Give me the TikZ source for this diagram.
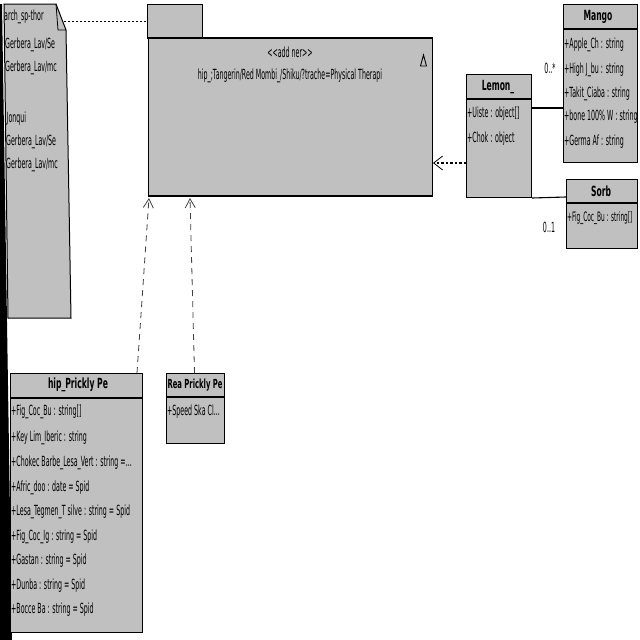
\documentclass[tikz,border=0pt]{standalone}
\usepackage{fontspec}
\setmainfont{DejaVu Sans}[FakeStretch=0.45,Ligatures=NoCommon]
\newfontfamily\titlefont{DejaVu Sans}[FakeStretch=0.545,Ligatures=NoCommon]
\usetikzlibrary{arrows.meta,calc}
\definecolor{boxgray}{HTML}{C0C0C0}
\tikzset{
 box/.style={draw=black, fill=boxgray, line width=1pt, inner sep=0pt, anchor=north west},
 sepline/.style={line width=1.8pt},
 txt/.style={anchor=west, inner sep=0pt, font=\fontsize{14}{15}\selectfont},
 ttl/.style={anchor=center, inner sep=0pt, font=\titlefont\fontsize{14}{15}\selectfont\bfseries},
 lbl/.style={anchor=center, inner sep=0pt, font=\fontsize{14}{15}\selectfont},
 dep/.style={dash pattern=on 6pt off 5pt, line width=0.8pt, draw=black!75, -{Straight Barb[length=9pt,width=10pt]}},
 dotdep/.style={dash pattern=on 2.5pt off 2pt, line width=1.1pt, -{Straight Barb[length=9pt,width=14pt,line width=0.8pt]}},
 dotline/.style={dash pattern=on 2pt off 2pt, line width=1pt},
 assoc/.style={line width=1.1pt},
}
\begin{document}
\begin{tikzpicture}[x=1pt,y=-1pt]
\useasboundingbox (0,0) rectangle (640,640);
\fill[white] (0,0) rectangle (640,640);
\fill[black] (0,4) -- (2,4) -- (12,640) -- (0,640) -- cycle;

% note
\filldraw[fill=boxgray, draw=black, line width=1pt] (4,4) -- (56,4) -- (66,30) -- (71,318) -- (8,318) -- cycle;
\draw[line width=0.8pt] (56,4) -- (58,30) -- (66,30);
\coordinate (noteR) at (64,21);
\begin{scope}
\clip (4,4) -- (56,4) -- (66,30) -- (71,318) -- (8,318) -- cycle;
\node[txt] (n1) at (4,17) {arch\_sp-thor};
\node[txt] (n2) at (5,45) {Gerbera\_Lav/Se};
\node[txt] (n3) at (5,68) {Gerbera\_Lav/mc};
\node[txt] (n4) at (6.5,119) {Jonqui};
\node[txt] (n5) at (6,142) {Gerbera\_Lav/Se};
\node[txt] (n6) at (6,165) {Gerbera\_Lav/mc};
\end{scope}

% package
\node[box, minimum width=55pt, minimum height=34pt] (pkgtab) at (147,4) {};
\node[box, minimum width=284pt, minimum height=157pt] (pkg) at (148,38) {};
\draw[line width=1.8pt] (pkg.north west) -- (pkg.north east);
\draw[line width=1.8pt] (pkg.south west) -- (pkg.south east);
\node[lbl] (st) at (290,52) {{<}{<}add ner{>}{>}};
\node[lbl] (pn) at (290,76) {hip\_;Tangerin/Red Mombi\_/Shiku/?trache=Physical Therapi};
\draw[line width=0.9pt] (423.5,55) -- (420.5,66) -- (426.5,66) -- cycle;

% Lemon
\node[box, minimum width=65pt, minimum height=123pt] (lemon) at (466,74) {};
\draw[sepline] (466,99) -- (531,99);
\node[ttl] (lt) at (498,87) {Lemon\_};
\node[txt] (l1) at (467,114) {+Uiste : object[]};
\node[txt] (l2) at (467,139) {+Chok : object};

% Mango
\node[box, minimum width=74pt, minimum height=158pt] (mango) at (563,4) {};
\draw[sepline] (563,29) -- (637,29);
\node[ttl] (mt) at (598,17) {Mango};
\begin{scope}
\clip (563,29) rectangle (637,162);
\node[txt] (m1) at (564,45) {+Apple\_Ch : string};
\node[txt] (m2) at (564,70) {+High J\_bu : string};
\node[txt] (m3) at (564,94) {+Takit\_Ciaba : string};
\node[txt] (m4) at (564,117) {+bone 100\% W : string};
\node[txt] (m5) at (564,142) {+Germa Af : string};
\end{scope}

% Sorb
\node[box, minimum width=71pt, minimum height=69pt] (sorb) at (566,179) {};
\draw[sepline] (566,203) -- (637,203);
\node[ttl] (sot) at (601,191) {Sorb};
\node[txt, font=\fontsize{13}{14}\selectfont] (s1) at (567,218) {+Fig\_Coc\_Bu : string[]};

% hip_Prickly Pe
\node[box, minimum width=132pt, minimum height=259pt] (hip) at (10,373) {};
\draw[sepline] (10,398) -- (142,398);
\node[ttl] (ht) at (78,385) {hip\_Prickly Pe};
\begin{scope}
\clip (10,398) rectangle (142,632);
\node[txt] (h1) at (11,412) {+Fig\_Coc\_Bu : string[]};
\node[txt] (h2) at (11,438) {+Key Lim\_Iberic : string};
\node[txt] (h3) at (11,463) {+Chokec Barbe\_Lesa\_Vert : string =...};
\node[txt] (h4) at (11,488) {+Afric\_doo : date = Spid};
\node[txt] (h5) at (11,512) {+Lesa\_Tegmen\_T silve : string = Spid};
\node[txt] (h6) at (11,537) {+Fig\_Coc\_Ig : string = Spid};
\node[txt] (h7) at (11,561) {+Gastan : string = Spid};
\node[txt] (h8) at (11,586) {+Dunba : string = Spid};
\node[txt] (h9) at (11,610) {+Bocce Ba : string = Spid};
\end{scope}

% Rea Prickly Pe
\node[box, minimum width=58pt, minimum height=70pt] (rea) at (166,373) {};
\draw[sepline] (166,397) -- (224,397);
\node[ttl, font=\titlefont\fontsize{12.5}{14}\selectfont\bfseries] (rt) at (195,385) {Rea Prickly Pe};
\node[txt] (r1) at (167,412) {+Speed Ska Cl...};

% connectors
\draw[dotline] (noteR) -- ($(pkgtab.north west)+(0,17)$);
\draw[dotdep] ($(lemon.north west)+(0,89)$) -- ($(pkg.north east)+(0,125)$);
\draw[assoc] ($(lemon.north east)+(0,34)$) -- ($(mango.north west)+(0,104)$);
\draw[assoc] (lemon.south east) -- ($(sorb.north west)+(0,18)$);
\draw[dep] ($(hip.north east)+(-6,0)$) -- ($(pkg.south west)+(1,2)$);
\draw[dep] ($(rea.north)+(-1,0)$) -- ($(pkg.south west)+(42,2)$);
\node[lbl] (c1) at (550,68) {0..*};
\node[lbl] (c2) at (549,227) {0..1};
\end{tikzpicture}
\end{document}
